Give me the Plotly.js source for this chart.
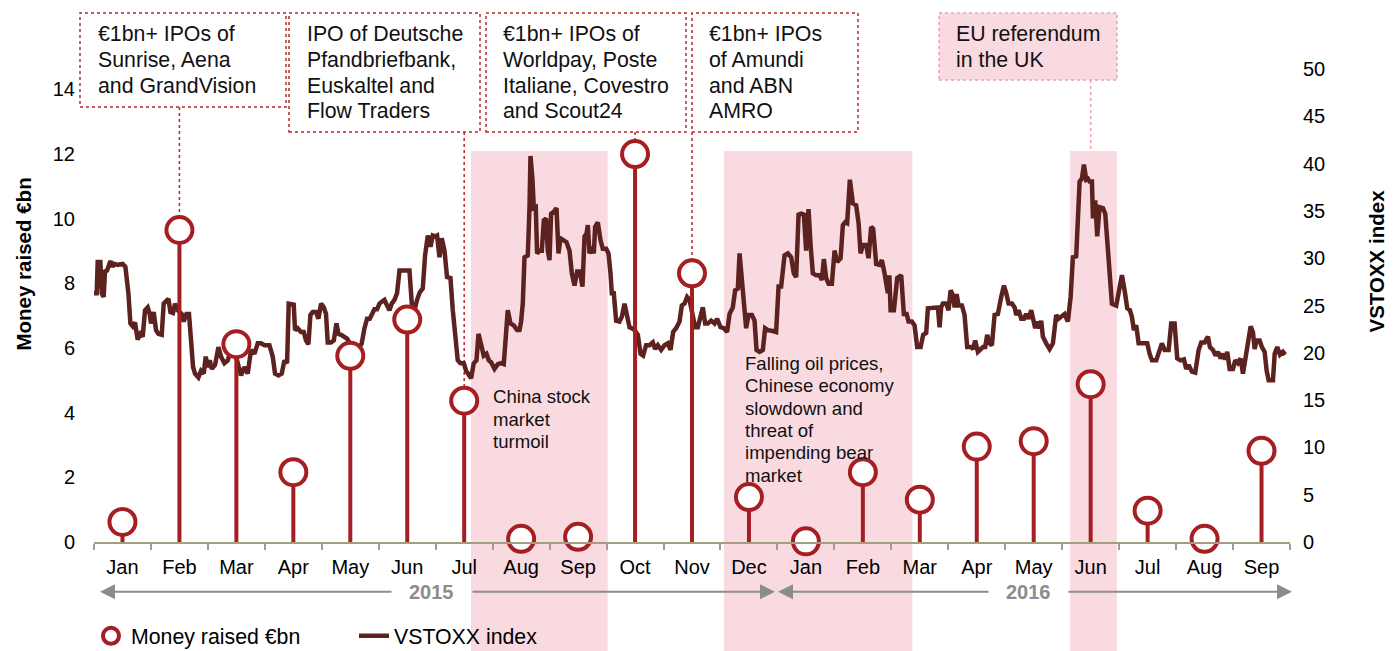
<!DOCTYPE html>
<html>
<head>
<meta charset="utf-8">
<script src="https://cdn.plot.ly/plotly-3.0.1.min.js"></script>
<style>html,body{margin:0;padding:0;background:#ffffff;}</style>
</head>
<body>
<div id="chart" style="width:1399px;height:651px;"></div>
<script>
// ---------- DATA ----------
const months = ['Jan','Feb','Mar','Apr','May','Jun','Jul','Aug','Sep','Oct','Nov','Dec',
                'Jan','Feb','Mar','Apr','May','Jun','Jul','Aug','Sep'];
const years = ['2015', '2016'];
// Money raised (EUR bn) per month, Jan 2015 - Sep 2016
const moneyRaised = [0.62, 9.65, 6.12, 2.16, 5.76, 6.88, 4.37, 0.10, 0.16, 12.0, 8.31, 1.39,
                     0.02, 2.16, 1.31, 2.95, 3.12, 4.88, 0.97, 0.10, 2.82];
// VSTOXX index: position in months since 1 Jan 2015, and value
const vstoxxMonthPos = [0.000,0.047,0.065,0.112,0.135,0.170,0.193,0.228,0.253,0.288,0.323,0.358,0.416,0.504,0.551,0.604,0.639,0.680,0.720,0.767,0.815,0.855,0.896,0.943,0.978,1.001,1.048,1.089,1.131,1.189,1.224,1.272,1.307,1.342,1.387,1.423,1.470,1.540,1.575,1.623,1.668,1.704,1.739,1.774,1.833,1.879,1.927,1.962,1.997,2.032,2.067,2.125,2.185,2.230,2.290,2.348,2.406,2.489,2.582,2.641,2.699,2.757,2.817,2.875,2.933,2.993,3.080,3.138,3.179,3.239,3.296,3.344,3.390,3.419,
3.460,3.507,3.530,3.577,3.635,3.683,3.723,3.765,3.800,3.841,3.899,3.941,3.987,4.034,4.074,4.104,4.162,4.210,4.257,4.292,4.338,4.385,4.443,4.491,4.573,4.661,4.701,4.749,4.795,4.842,4.877,4.924,4.970,5.012,5.053,5.100,5.146,5.188,5.228,5.276,5.321,5.364,5.421,5.480,5.539,5.580,5.627,5.673,5.720,5.773,5.813,5.861,5.908,5.948,5.989,6.024,6.066,6.106,6.154,6.199,6.259,6.300,6.340,6.387,6.435,6.493,6.533,6.593,6.621,6.668,6.716,6.751,6.797,6.844,6.891,6.932,
6.972,7.032,7.090,7.148,7.195,7.236,7.265,7.313,7.371,7.429,7.471,7.499,7.529,7.559,7.617,7.647,7.664,7.699,7.722,7.757,7.780,7.822,7.863,7.898,7.938,7.968,7.998,8.026,8.073,8.121,8.156,8.191,8.237,8.296,8.349,8.390,8.437,8.483,8.530,8.577,8.613,8.648,8.671,8.700,8.741,8.776,8.799,8.846,8.894,8.934,8.992,9.034,9.069,9.092,9.127,9.168,9.227,9.268,9.315,9.361,9.403,9.443,9.491,9.549,9.596,9.642,9.694,9.754,9.812,9.852,9.900,9.958,10.017,10.075,10.123,10.169,10.221,10.281,10.321,10.369,10.414,10.457,
10.497,10.555,10.602,10.650,10.690,10.731,10.778,10.836,10.896,10.941,11.001,11.059,11.117,11.159,11.217,11.257,11.305,11.335,11.363,11.410,11.451,11.493,11.551,11.598,11.633,11.686,11.744,11.784,11.832,11.920,11.977,12.020,12.065,12.125,12.183,12.241,12.288,12.329,12.371,12.417,12.464,12.504,12.546,12.582,12.622,12.680,12.740,12.780,12.815,12.856,12.898,12.956,13.003,13.049,13.109,13.149,13.189,13.224,13.272,13.325,13.382,13.425,13.460,13.500,13.558,13.600,13.646,13.681,13.734,13.793,13.834,13.881,13.939,
13.965,13.987,14.045,14.103,14.173,14.220,14.268,14.303,14.361,14.408,14.454,14.514,14.559,14.612,14.642,14.712,14.770,14.817,14.847,14.875,14.905,14.963,15.005,15.040,15.081,15.111,15.146,15.181,15.239,15.286,15.332,15.402,15.437,15.472,15.520,15.567,15.608,15.648,15.683,15.725,15.766,15.813,15.871,15.929,15.977,16.017,16.059,16.117,16.165,16.193,16.235,16.281,16.328,16.368,16.410,16.456,16.503,16.526,16.561,16.603,16.631,16.661,16.719,16.779,16.837,16.895,16.937,16.983,17.042,17.100,17.148,17.188,17.246,17.306,17.346,17.381,17.422,17.452,
17.481,17.522,17.540,17.580,17.615,17.657,17.715,17.756,17.791,17.833,17.873,17.949,18.008,18.049,18.096,18.142,18.189,18.224,18.259,18.300,18.342,18.418,18.493,18.535,18.576,18.651,18.693,18.751,18.798,18.869,18.914,18.974,19.020,19.079,19.137,19.178,19.220,19.278,19.336,19.396,19.442,19.501,19.559,19.594,19.647,19.694,19.735,19.782,19.823,19.863,19.898,19.940,19.998,20.039,20.086,20.133,20.174,20.214,20.262,20.309,20.349,20.379,20.414,20.467,20.507,20.555,20.590,20.625,20.701,20.731,20.776,20.824,20.876,20.917];
const vstoxxValue = [26.3,26.3,29.6,29.6,26.3,25.9,28.6,28.7,29.1,29.7,29.1,29.4,29.3,29.4,29.1,26.3,23.1,22.8,23.2,21.4,22.0,21.7,24.5,24.8,24.1,23.1,24.3,22.4,22.0,21.9,25.2,25.6,25.7,24.3,24.2,25.2,24.5,24.1,23.3,24.1,24.1,21.3,18.5,17.8,17.4,18.1,17.8,19.6,18.5,19.2,18.3,18.7,20.6,19.6,18.9,19.2,20.3,19.7,17.6,18.5,17.8,20.3,19.9,21.0,21.0,20.8,20.8,19.6,17.8,17.6,17.8,19.2,18.9,25.2,
25.2,25.1,22.4,22.6,22.2,22.2,21.3,20.9,24.0,24.3,24.3,23.6,25.2,24.8,24.1,21.1,21.1,21.3,23.1,22.0,21.9,21.7,21.5,21.0,20.6,20.6,21.0,22.6,23.6,23.6,24.1,24.6,24.6,25.2,25.4,25.6,25.0,24.5,25.2,25.6,26.3,28.7,28.7,28.7,28.7,25.2,24.5,25.6,26.4,26.8,30.3,32.4,31.2,32.4,32.3,32.4,30.1,32.1,30.8,28.0,27.9,24.5,21.7,19.2,18.9,18.9,18.1,17.6,17.3,18.9,19.2,22.0,20.6,19.7,19.9,19.2,
19.0,18.3,18.8,18.9,18.8,22.0,24.5,23.1,22.9,22.4,22.4,23.3,25.2,30.1,30.3,35.4,40.8,38.3,35.3,35.4,30.5,30.8,30.8,34.0,34.2,30.8,29.8,34.7,34.9,35.3,30.5,32.1,31.9,31.7,30.8,28.4,27.1,28.6,28.6,27.0,32.3,32.6,33.5,30.5,31.2,30.5,33.3,33.8,31.9,31.0,31.0,30.5,28.4,26.3,26.3,23.4,23.3,23.8,25.2,24.1,22.7,22.6,22.4,21.9,19.9,19.7,20.8,20.8,21.1,20.4,20.8,20.3,20.8,21.0,20.3,22.2,22.6,23.3,25.0,25.2,25.9,25.6,
24.3,22.7,22.7,23.8,24.8,23.1,23.1,23.4,23.1,23.6,22.7,22.6,22.2,24.1,24.8,26.6,26.8,30.5,28.4,25.2,22.6,24.0,24.0,23.4,20.3,20.1,20.3,22.6,22.4,22.3,22.2,27.0,27.0,30.3,30.5,30.1,28.4,28.0,34.6,34.7,34.6,30.8,35.2,31.4,28.4,28.2,28.2,27.7,29.9,27.9,27.3,27.3,30.8,29.6,30.0,33.5,33.8,33.7,38.3,35.8,35.6,33.7,30.5,31.4,31.4,30.0,33.3,33.1,29.4,29.3,29.8,28.4,26.3,
28.2,24.5,24.5,27.9,28.2,24.1,24.1,23.3,23.3,22.9,20.6,20.6,21.9,22.1,24.7,24.7,24.8,24.8,22.7,24.8,25.2,25.2,24.5,26.6,26.1,24.8,26.2,25.0,25.0,24.0,20.6,20.6,20.4,21.3,20.1,20.4,20.6,20.6,21.9,21.0,20.8,24.0,24.1,25.9,27.1,26.3,25.2,25.2,24.8,24.0,24.5,23.6,23.6,24.1,23.6,24.5,23.3,22.6,23.3,22.6,23.4,21.7,21.0,20.4,21.0,24.0,23.6,23.8,24.1,23.3,25.9,30.1,30.2,38.1,38.4,39.9,38.3,38.4,
38.1,38.1,34.2,36.1,32.3,35.4,35.3,34.7,31.6,27.3,25.2,25.0,26.8,28.2,26.6,24.7,24.5,23.8,22.4,22.9,21.0,21.0,21.0,19.9,19.2,19.2,19.9,21.0,20.3,20.3,23.1,23.1,19.4,19.2,19.3,18.3,18.7,18.0,17.9,20.3,21.1,21.1,21.7,20.6,20.3,19.7,20.1,19.4,19.9,19.3,20.1,18.3,18.3,19.2,18.9,19.4,17.8,19.4,21.5,22.8,22.2,20.4,21.3,21.3,20.6,20.1,18.1,17.1,17.1,19.9,20.6,19.8,20.1,19.8];
// Shaded event periods (month positions)
const eventPeriods = [[6.62, 9.02], [11.06, 14.37], [17.14, 17.96]];

// ---------- LAYOUT HELPERS ----------
const FONT = 'Liberation Sans, Arial, Helvetica, sans-serif';
const PL = 94, PR = 1290, PT = 69, PB = 542;      // plot area in pixels
const LEFT_MAX = 14.63, RIGHT_MAX = 50;
const px = x => (x - PL) / (PR - PL);
const py = y => (PB - y) / (PB - PT);
const RED = '#a51e22', BROWN = '#5c221f', PINK = '#f8dae0', AXIS = '#a39e80', GRAY = '#8c8c8c';
const centers = months.map((m, i) => i + 0.5);

const traces = [
  {
    type: 'scatter', mode: 'lines', name: 'VSTOXX index',
    x: vstoxxMonthPos, y: vstoxxValue, xaxis: 'x', yaxis: 'y',
    line: {color: BROWN, width: 4.5}, legendrank: 2, hoverinfo: 'skip'
  },
  {
    type: 'scatter', mode: 'markers', name: 'Money raised €bn',
    x: centers, y: moneyRaised, xaxis: 'x', yaxis: 'y2',
    marker: {symbol: 'circle', size: 26, color: '#ffffff', line: {color: RED, width: 4}},
    error_y: {type: 'data', symmetric: false, array: moneyRaised.map(() => 0),
              arrayminus: moneyRaised, width: 0, thickness: 4, color: RED},
    cliponaxis: false, legendrank: 1
  }
];

const shapes = [];
eventPeriods.forEach(p => shapes.push({
  type: 'rect', xref: 'x', yref: 'paper', x0: p[0], x1: p[1], y0: py(651), y1: py(151),
  fillcolor: PINK, line: {width: 0}, layer: 'below'
}));

const boxes = [
  {lines: ['€1bn+ IPOs of', 'Sunrise, Aena', 'and GrandVision'], l: 80, r: 286, b: 107, tx: 96, month: 1},
  {lines: ['IPO of Deutsche', 'Pfandbriefbank,', 'Euskaltel and', 'Flow Traders'], l: 289, r: 480, b: 132, tx: 305, month: 6},
  {lines: ['€1bn+ IPOs of', 'Worldpay, Poste', 'Italiane, Covestro', 'and Scout24'], l: 486, r: 686, b: 132, tx: 501, month: 9},
  {lines: ['€1bn+ IPOs', 'of Amundi', 'and ABN', 'AMRO'], l: 692, r: 858, b: 132, tx: 707, month: 10},
  {lines: ['EU referendum', 'in the UK'], l: 939, r: 1117, b: 80, tx: 954, month: 17, pink: true}
];

const annotations = [];
boxes.forEach(bx => {
  shapes.push({
    type: 'rect', xref: 'paper', yref: 'paper', x0: px(bx.l), x1: px(bx.r), y0: py(bx.b), y1: py(13),
    fillcolor: bx.pink ? PINK : 'rgba(0,0,0,0)',
    line: {color: bx.pink ? '#efa0b0' : '#b5282d', width: 1.5, dash: 'dot'}
  });
  // leader line
  const yEnd = bx.pink ? py(151) : moneyRaised[bx.month] / LEFT_MAX;
  shapes.push({
    type: 'line', xref: 'x', yref: 'paper', x0: bx.month + 0.5, x1: bx.month + 0.5,
    y0: py(bx.b), y1: yEnd,
    line: {color: bx.pink ? '#efa0b0' : '#b5282d', width: 1.5, dash: 'dot'}, layer: 'below'
  });
  bx.lines.forEach((t, i) => annotations.push({
    xref: 'paper', yref: 'paper', x: px(bx.tx), y: py(34.2 + i * 25.7),
    xanchor: 'left', yanchor: 'middle', text: t, showarrow: false,
    font: {family: FONT, size: 21.3, color: '#111111'}
  }));
});

const notes = [
  {lines: ['China stock', 'market', 'turmoil'], x: 491, y0: 396.7},
  {lines: ['Falling oil prices,', 'Chinese economy', 'slowdown and', 'threat of', 'impending bear', 'market'], x: 743, y0: 363.3}
];
notes.forEach(n => n.lines.forEach((t, i) => annotations.push({
  xref: 'paper', yref: 'paper', x: px(n.x), y: py(n.y0 + i * 22.4),
  xanchor: 'left', yanchor: 'middle', text: t, showarrow: false,
  font: {family: FONT, size: 18.6, color: '#111111'}
})));

// axis titles (placed as in the original, above the axis centre)
annotations.push({
  xref: 'paper', yref: 'paper', x: px(22.5), y: py(264), xanchor: 'center', yanchor: 'middle',
  textangle: -90, text: '<b>Money raised €bn</b>', showarrow: false,
  font: {family: FONT, size: 20.5, color: '#000000'}
});
annotations.push({
  xref: 'paper', yref: 'paper', x: px(1376), y: py(261.5), xanchor: 'center', yanchor: 'middle',
  textangle: -90, text: '<b>VSTOXX index</b>', showarrow: false,
  font: {family: FONT, size: 20.5, color: '#000000'}
});

// year arrows
const AY = py(591.7);
const arrows = [[100, 393], [775, 471], [778, 990], [1292, 1067]];
arrows.forEach(a => annotations.push({
  xref: 'paper', yref: 'paper', x: px(a[0]), y: AY, ax: a[1] - a[0], ay: 0,
  text: '', showarrow: true, arrowhead: 2, arrowsize: 1.5, arrowwidth: 2, arrowcolor: GRAY
}));
[[431, years[0]], [1028, years[1]]].forEach(y => annotations.push({
  xref: 'paper', yref: 'paper', x: px(y[0]), y: AY, xanchor: 'center', yanchor: 'middle',
  text: '<b>' + y[1] + '</b>', showarrow: false, font: {family: FONT, size: 20, color: GRAY}
}));

const layout = {
  width: 1399, height: 651,
  margin: {l: PL, r: 1399 - PR, t: PT, b: 651 - PB, autoexpand: false},
  paper_bgcolor: '#ffffff', plot_bgcolor: 'rgba(0,0,0,0)',
  font: {family: FONT, size: 20, color: '#000000'},
  showlegend: true,
  legend: {orientation: 'h', x: px(91), y: py(636), xanchor: 'left', yanchor: 'middle',
           font: {family: FONT, size: 21.3, color: '#000000'}, bgcolor: 'rgba(0,0,0,0)',
           entrywidth: 218, entrywidthmode: 'pixels', traceorder: 'normal'},
  xaxis: {
    range: [0, 21], tickmode: 'array', tickvals: centers, ticktext: months, ticks: '',
    showline: true, linecolor: AXIS, linewidth: 2, showgrid: false, zeroline: false,
    tickfont: {size: 20}, ticklabelstandoff: 6,
    minor: {tickmode: 'linear', tick0: 0, dtick: 1, ticks: 'outside', ticklen: 6,
            tickwidth: 2, tickcolor: AXIS, showgrid: false}
  },
  yaxis: {
    range: [0, RIGHT_MAX], side: 'right', tickmode: 'linear', tick0: 0, dtick: 5,
    showgrid: false, zeroline: false, showline: false, ticks: '', tickfont: {size: 20},
    ticklabelstandoff: 12
  },
  yaxis2: {
    range: [0, LEFT_MAX], overlaying: 'y', side: 'left', tickmode: 'linear', tick0: 0, dtick: 2,
    showgrid: false, zeroline: false, showline: false, ticks: '', tickfont: {size: 20},
    ticklabelstandoff: 18
  },
  shapes: shapes,
  annotations: annotations
};

Plotly.newPlot('chart', traces, layout, {displayModeBar: false, staticPlot: true});
</script>
</body>
</html>
